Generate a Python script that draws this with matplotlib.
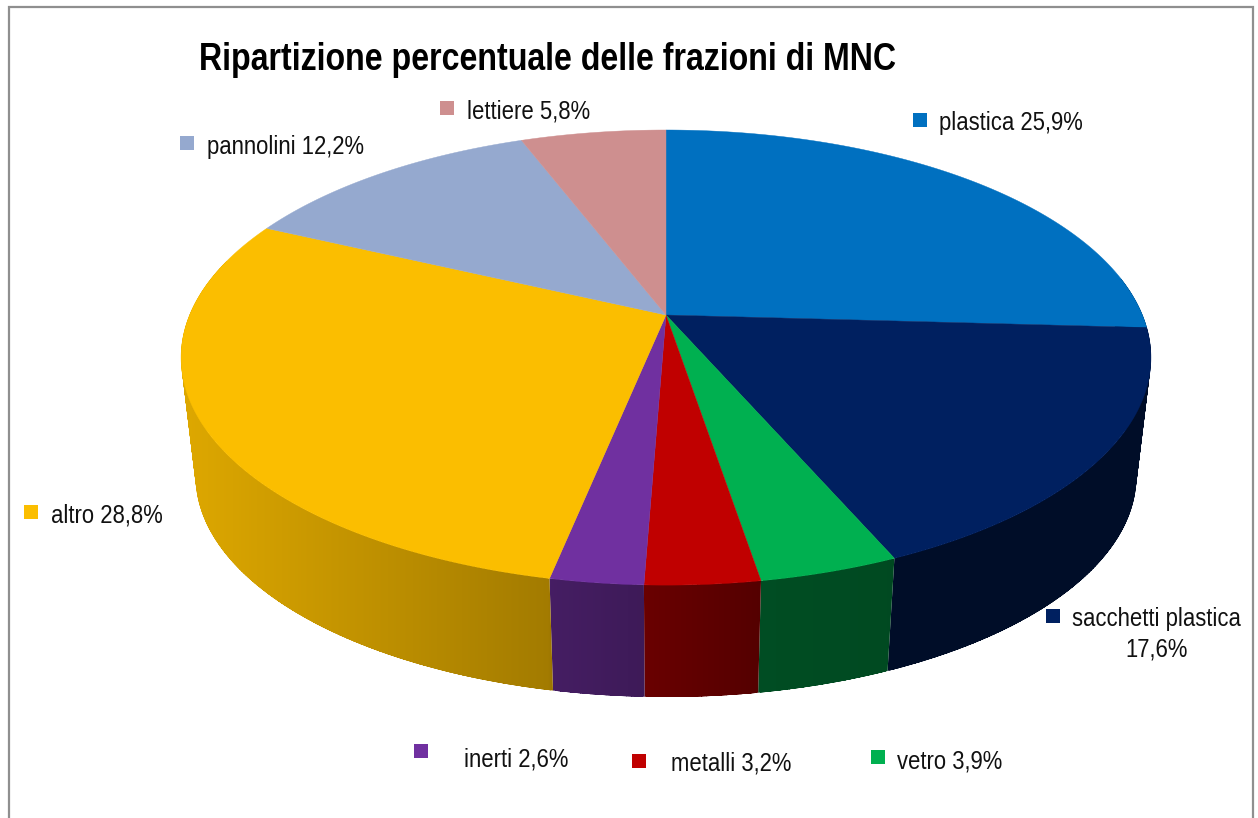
import numpy as np
import matplotlib
matplotlib.use("Agg")
import matplotlib.pyplot as plt
from matplotlib import font_manager as fm
from matplotlib.patches import Polygon, Rectangle, PathPatch
from matplotlib.path import Path

categories = ["plastica", "sacchetti plastica", "vetro", "metalli", "inerti", "altro", "pannolini", "lettiere"]
values = [25.9, 17.6, 3.9, 3.2, 2.6, 28.8, 12.2, 5.8]
value_labels = ["25,9%", "17,6%", "3,9%", "3,2%", "2,6%", "28,8%", "12,2%", "5,8%"]
colors = ["#0070C0", "#002060", "#00B050", "#C00000", "#7030A0", "#FBBE00", "#95A9CF", "#CE8F8F"]

# label layout: marker x, marker y, text x, text y (pixels)
layout = {
    "plastica": (920, 120, 939, 123),
    "sacchetti plastica": (1053, 616, 1072, 619),
    "vetro": (878, 757, 897, 762),
    "metalli": (639, 761, 671, 764),
    "inerti": (421, 751, 464, 760),
    "altro": (31, 512, 51, 516),
    "pannolini": (187, 143, 207, 147),
    "lettiere": (447, 108, 467, 112),
}

W, H = 1258, 818


def narrow_font(weight, sx, family):
    """Write a horizontally condensed copy of Liberation Sans, as the reference text is condensed."""
    try:
        from fontTools.ttLib import TTFont
        src = fm.findfont(fm.FontProperties(family="Liberation Sans", weight=weight))
        font = TTFont(src)
        glyf = font["glyf"]
        for name in glyf.keys():
            g = glyf[name]
            if g.isComposite():
                for comp in g.components:
                    comp.x = int(round(comp.x * sx))
            elif g.numberOfContours > 0:
                g.coordinates.scale((sx, 1))
                g.coordinates.toInt()
                if hasattr(g, "program"):
                    g.program.fromBytecode(b"")
        hmtx = font["hmtx"]
        for name, (adv, lsb) in list(hmtx.metrics.items()):
            hmtx.metrics[name] = (int(round(adv * sx)), int(round(lsb * sx)))
        for tag in ("fpgm", "prep", "cvt ", "hdmx", "LTSH", "VDMX", "kern", "GPOS", "GSUB", "GDEF", "gasp"):
            if tag in font:
                del font[tag]
        for rec in font["name"].names:
            if rec.nameID in (1, 4, 16):
                rec.string = family
        path = f"{family.replace(' ', '')}.ttf"
        font.save(path)
        fm.fontManager.addfont(path)
        return fm.FontProperties(fname=path)
    except Exception as exc:
        print("narrow font failed", exc)
        return fm.FontProperties(family="Liberation Sans", weight=weight)


title_font = narrow_font("bold", 0.84, "MNC Narrow Bold")
label_font = narrow_font("normal", 0.857, "MNC Narrow")

fig = plt.figure(figsize=(W / 100, H / 100), dpi=100)
ax = fig.add_axes([0, 0, 1, 1])
ax.set_xlim(0, W)
ax.set_ylim(H, 0)
ax.axis("off")

CX, CY, A, B, K = 666, 315, 219.6, 476.4, 0.187
LOW_Y, LOW_S = 435, 0.97


def project(theta, low=False):
    s, c = np.sin(theta), np.cos(theta)
    w = 1 + K * c
    x, y = B * s / w, -A * c / w
    if low:
        return CX + LOW_S * x, LOW_Y + LOW_S * y
    return CX + x, CY + y


edges = np.cumsum([0] + values) / 100 * 2 * np.pi
edges[-1] = 2 * np.pi
shade_x = [190, 548, 552, 645, 760, 890, 1140]
shade_val = [0.88, 0.65, 0.62, 0.55, 0.44, 0.42, 0.42]
VIS0, VIS1 = np.radians(80), np.radians(285)
OVER = np.radians(0.3)


def wall_path(a0, a1):
    """Union of consistently wound quads between the top rim and the bottom rim."""
    n = max(4, int(np.degrees(a1 - a0) * 2))
    t = np.linspace(a0, a1, n + 1)
    verts, codes = [], []
    for u, v in zip(t[:-1], t[1:]):
        u2, v2 = max(a0, u - OVER), min(a1, v + OVER)
        q = np.array([project(u2), project(v2), project(v2, True), project(u2, True)])
        area = np.sum(q[:, 0] * np.roll(q[:, 1], -1) - np.roll(q[:, 0], -1) * q[:, 1])
        if area < 0:
            q = q[::-1]
        verts.extend(q.tolist() + [q[0].tolist()])
        codes.extend([Path.MOVETO, Path.LINETO, Path.LINETO, Path.LINETO, Path.CLOSEPOLY])
    return Path(verts, codes)


# side wall: one horizontal gradient per slice, clipped to the wall's outline
for i, col in enumerate(colors):
    a0, a1 = max(edges[i], VIS0), min(edges[i + 1], VIS1)
    if a1 <= a0:
        continue
    path = wall_path(a0, a1)
    x0, x1 = int(np.floor(path.vertices[:, 0].min())) - 1, int(np.ceil(path.vertices[:, 0].max())) + 1
    y0, y1 = int(np.floor(path.vertices[:, 1].min())) - 1, int(np.ceil(path.vertices[:, 1].max())) + 1
    xs = np.arange(x0, x1) + 0.5
    f = np.interp(xs, shade_x, shade_val)
    rgb = np.array(matplotlib.colors.to_rgb(col))
    img = (f[:, None] * rgb)[None, :, :]
    im = ax.imshow(img, extent=(x0, x1, y1, y0), aspect="auto", interpolation="nearest", zorder=1)
    patch = PathPatch(path, transform=ax.transData, facecolor="none", edgecolor="none")
    ax.add_patch(patch)
    im.set_clip_path(patch)
ax.set_xlim(0, W)
ax.set_ylim(H, 0)

# top face
for i, col in enumerate(colors):
    t = np.linspace(edges[i], edges[i + 1], 200)
    x, y = project(t)
    pts = np.vstack([[CX, CY], np.column_stack([x, y])])
    ax.add_patch(Polygon(pts, closed=True, facecolor=col, edgecolor=col, linewidth=0.3, zorder=2))

# frame
ax.plot([8.5, 8.5, 1252.5, 1252.5], [H, 7, 7, H], color="#8F8F8F", lw=1.6, solid_joinstyle="miter", zorder=3)

ax.text(199, 60, "Ripartizione percentuale delle frazioni di MNC", fontproperties=title_font, fontsize=27.5,
        ha="left", va="center", color="black", zorder=4)

FS = 18.5
for name, lab, col in zip(categories, value_labels, colors):
    mx, my, tx, ty = layout[name]
    ax.add_patch(Rectangle((mx - 7, my - 7), 14, 14, facecolor=col, edgecolor="none", zorder=3))
    if name == "sacchetti plastica":
        ax.text(tx, ty, name, fontproperties=label_font, fontsize=FS, ha="left", va="center", color="#111111", zorder=4)
        ax.text(1157, 650, lab, fontproperties=label_font, fontsize=FS, ha="center", va="center", color="#111111", zorder=4)
    else:
        ax.text(tx, ty, f"{name} {lab}", fontproperties=label_font, fontsize=FS, ha="left", va="center", color="#111111", zorder=4)

fig.savefig("out.png", dpi=100, facecolor="white")
